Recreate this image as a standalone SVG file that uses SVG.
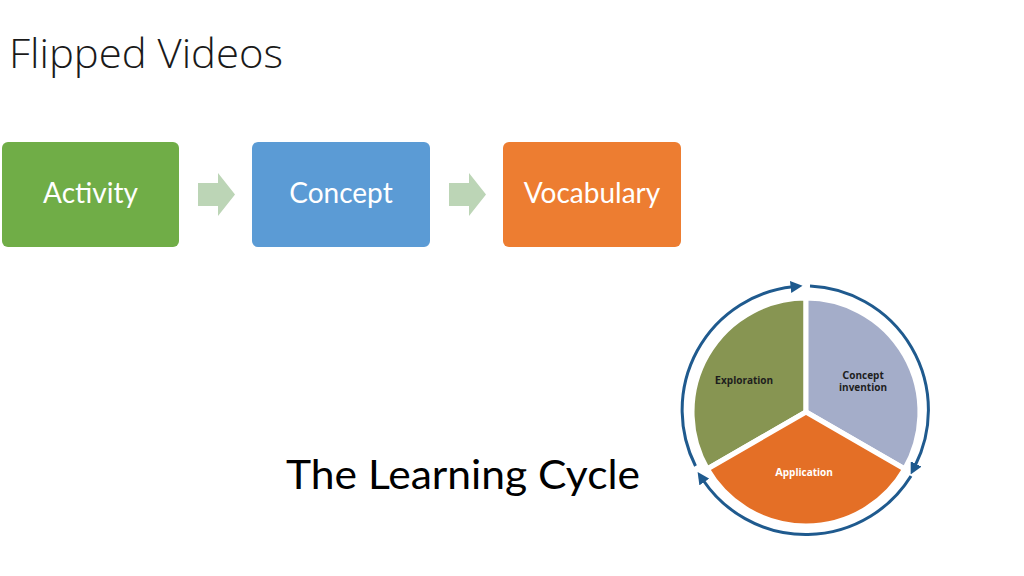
<svg xmlns="http://www.w3.org/2000/svg" width="1024" height="576" viewBox="0 0 1024 576">
<defs>
<style>
.title{font-family:"Open Sans",Lato,"Liberation Sans",sans-serif;font-weight:300;fill:#1a1a1a}
.box{stroke:none}
.btxt{font-family:Lato,"Open Sans","Liberation Sans",sans-serif;font-size:28px;fill:#ffffff;text-anchor:middle}
.harrow{fill:#bcd5b6}
.ring{fill:none;stroke:#1f5a8e;stroke-width:3}
.ptxt{font-family:"Open Sans","Liberation Sans",sans-serif;font-weight:700;font-size:10px;text-anchor:middle}
</style>
<marker id="ah" viewBox="0 0 10 10" refX="2" refY="5" markerWidth="4" markerHeight="4" orient="auto" markerUnits="strokeWidth">
<path d="M0,0 L10,5 L0,10 z" fill="#1f5a8e"/>
</marker>
</defs>
<rect width="1024" height="576" fill="#ffffff"/>
<text class="title" x="9" y="68" font-size="40" textLength="274" lengthAdjust="spacingAndGlyphs">Flipped Videos</text>

<g id="connectors">
<path class="harrow" d="M198,183 H218 V173 L235,194.5 L218,216 V206 H198 Z"/>
<path class="harrow" d="M449,183 H469 V173 L486,194.5 L469,216 V206 H449 Z"/>
</g>

<g id="node-activity">
<rect class="box" x="2" y="142" width="177" height="105" rx="6" fill="#70ad47"/>
<text class="btxt" x="90.5" y="203">Activity</text>
</g>
<g id="node-concept">
<rect class="box" x="252" y="142" width="178" height="105" rx="6" fill="#5b9bd5"/>
<text class="btxt" x="341" y="203">Concept</text>
</g>
<g id="node-vocabulary">
<rect class="box" x="503" y="142" width="178" height="105" rx="6" fill="#ed7d31"/>
<text class="btxt" x="592" y="203">Vocabulary</text>
</g>

<text x="463" y="489" font-family="Lato,'Open Sans','Liberation Sans',sans-serif" font-size="40" fill="#000000" text-anchor="middle" textLength="354" lengthAdjust="spacingAndGlyphs">The Learning Cycle</text>

<g id="learning-cycle">
<path d="M806,412 L806,298 A114,114 0 0 0 707.3,469 Z" fill="#879552" stroke="#ffffff" stroke-width="5" stroke-linejoin="round"/>
<path d="M806,412 L806,298 A114,114 0 0 1 904.7,469 Z" fill="#a4adc9" stroke="#ffffff" stroke-width="5" stroke-linejoin="round"/>
<path d="M806,412 L904.7,469 A114,114 0 0 1 707.3,469 Z" fill="#e46f26" stroke="#ffffff" stroke-width="5" stroke-linejoin="round"/>
<text class="ptxt" x="744" y="384" fill="#1e1e1e"><tspan font-size="11">E</tspan>xploration</text>
<text class="ptxt" x="863" y="379" fill="#1e1e1e"><tspan font-size="11">C</tspan>oncept</text>
<text class="ptxt" x="863" y="391" fill="#1e1e1e">invention</text>
<text class="ptxt" x="804" y="476" fill="#ffffff"><tspan font-size="11">A</tspan>pplication</text>
</g>

<g id="cycle-arrows">
<path class="ring" marker-end="url(#ah)" d="M695.5,466 A124,124 0 0 1 793,286.7"/>
<path class="ring" marker-end="url(#ah)" d="M810,286 A124,124 0 0 1 915,466"/>
<path class="ring" marker-end="url(#ah)" d="M911,476 A124,124 0 0 1 703,480"/>
</g>
</svg>
